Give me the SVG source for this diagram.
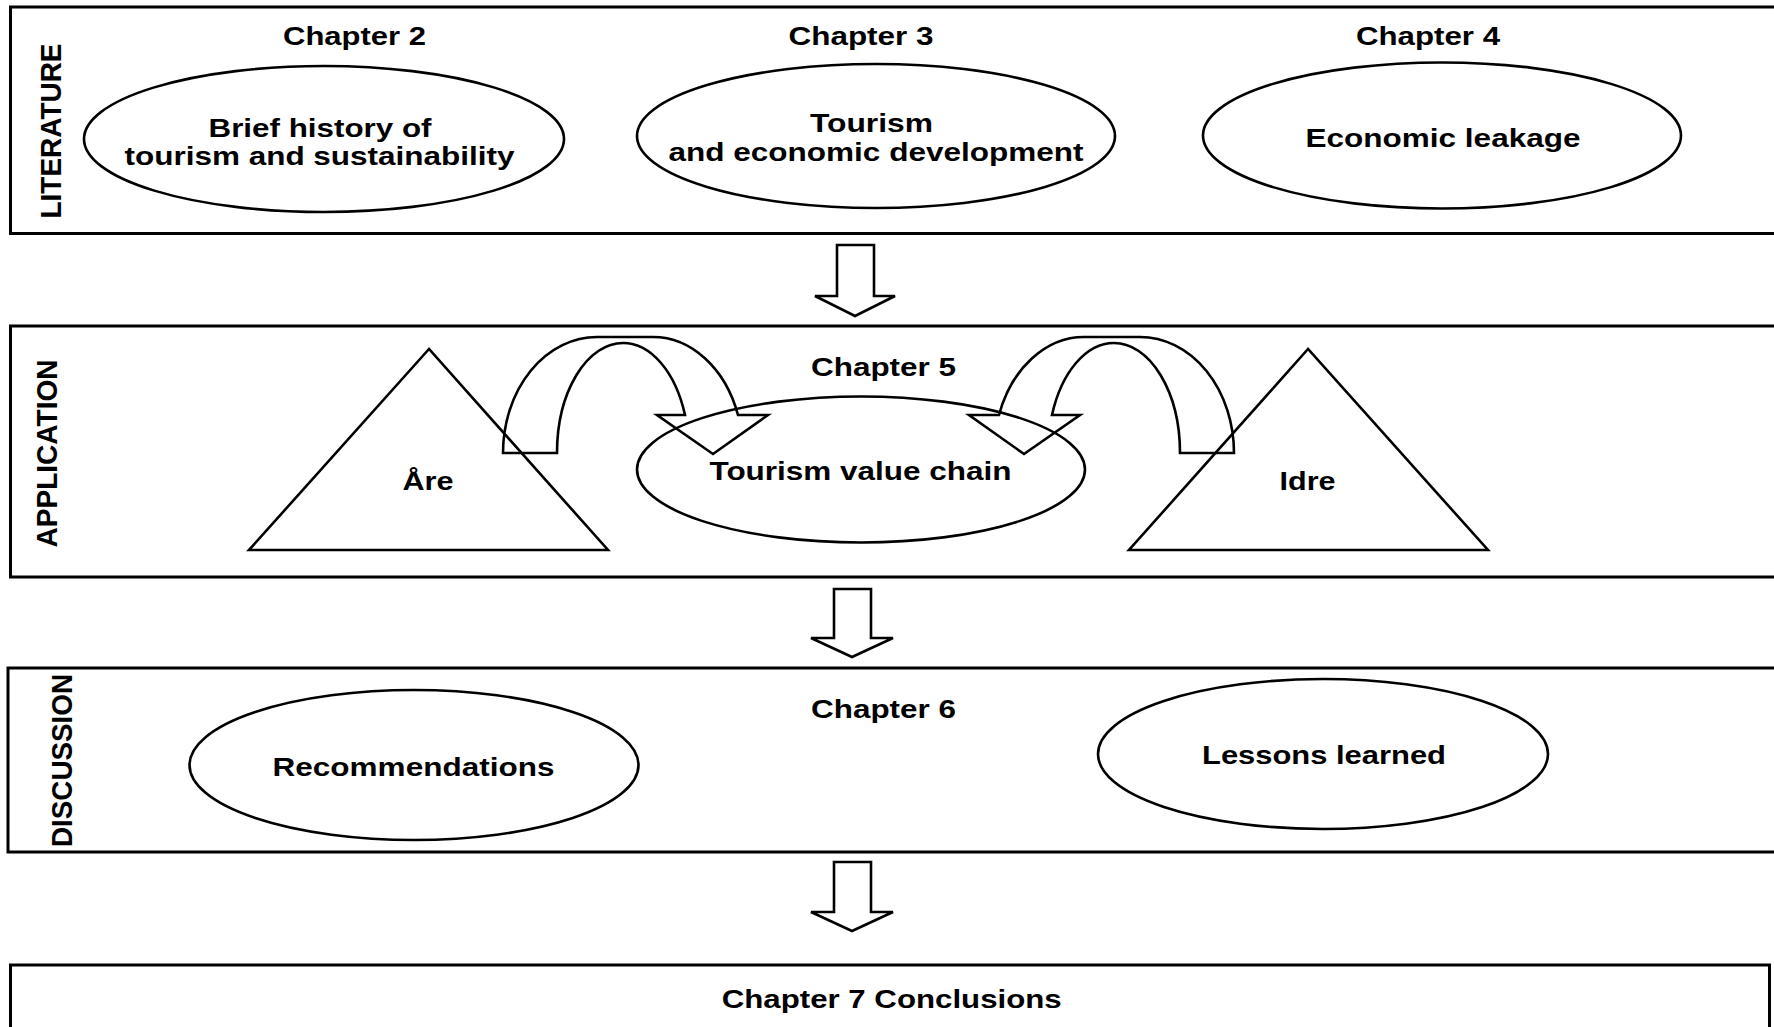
<svg xmlns="http://www.w3.org/2000/svg" width="1774" height="1027" viewBox="0 0 1774 1027">
<style>
.box{fill:none;stroke:#000;stroke-width:3}
.shape{fill:none;stroke:#000;stroke-width:2.6}
.arr{fill:none;stroke:#000;stroke-width:2.6;stroke-linejoin:miter}
text{font-family:"Liberation Sans",Arial,sans-serif;font-weight:bold;font-size:26px;fill:#000}
.ctr{text-anchor:middle}
.side{font-size:30px;text-anchor:middle}
</style>
<rect width="1774" height="1027" fill="#fff"/>
<g id="literature">
<rect class="box" x="10.5" y="7" width="1780" height="226.5"/>
<text class="side" transform="translate(61,131) rotate(-90)" textLength="175" lengthAdjust="spacingAndGlyphs">LITERATURE</text>
</g>
<g id="ch2">
<text class="ctr" x="354.5" y="45" textLength="143" lengthAdjust="spacingAndGlyphs">Chapter 2</text>
<ellipse class="shape" cx="324" cy="139" rx="240" ry="73"/>
<text class="ctr" x="320" y="137" textLength="223" lengthAdjust="spacingAndGlyphs">Brief history of</text>
<text class="ctr" x="319.5" y="165" textLength="390" lengthAdjust="spacingAndGlyphs">tourism and sustainability</text>
</g>
<g id="ch3">
<text class="ctr" x="861" y="45" textLength="145" lengthAdjust="spacingAndGlyphs">Chapter 3</text>
<ellipse class="shape" cx="876" cy="136" rx="239" ry="72"/>
<text class="ctr" x="871.5" y="132" textLength="123" lengthAdjust="spacingAndGlyphs">Tourism</text>
<text class="ctr" x="876" y="161" textLength="415" lengthAdjust="spacingAndGlyphs">and economic development</text>
</g>
<g id="ch4">
<text class="ctr" x="1428" y="45" textLength="144" lengthAdjust="spacingAndGlyphs">Chapter 4</text>
<ellipse class="shape" cx="1442" cy="135.5" rx="239" ry="73"/>
<text class="ctr" x="1443" y="147" textLength="275" lengthAdjust="spacingAndGlyphs">Economic leakage</text>
</g>
<g id="application">
<rect class="box" x="10.5" y="326" width="1780" height="251"/>
<text class="side" transform="translate(57,453.5) rotate(-90)" textLength="188" lengthAdjust="spacingAndGlyphs">APPLICATION</text>
<text class="ctr" x="883.5" y="376" textLength="145" lengthAdjust="spacingAndGlyphs">Chapter 5</text>
</g>
<g id="are">
<polygon class="shape" points="429,349 249,550 608,550"/>
<text class="ctr" x="428" y="490" textLength="51" lengthAdjust="spacingAndGlyphs">Åre</text>
</g>
<g id="valuechain">
<ellipse class="shape" cx="861" cy="469.5" rx="224" ry="73"/>
<text class="ctr" x="860.5" y="480" textLength="302" lengthAdjust="spacingAndGlyphs">Tourism value chain</text>
</g>
<g id="idre">
<polygon class="shape" points="1308,349 1129,550 1488,550"/>
<text class="ctr" x="1307.5" y="490" textLength="56" lengthAdjust="spacingAndGlyphs">Idre</text>
</g>
<g id="discussion">
<rect class="box" x="8" y="668" width="1780" height="184"/>
<text class="side" transform="translate(72,760.5) rotate(-90)" textLength="173" lengthAdjust="spacingAndGlyphs">DISCUSSION</text>
<text class="ctr" x="883.5" y="718" textLength="145" lengthAdjust="spacingAndGlyphs">Chapter 6</text>
</g>
<g id="recommendations">
<ellipse class="shape" cx="414" cy="765" rx="224.5" ry="75"/>
<text class="ctr" x="413.5" y="776" textLength="282" lengthAdjust="spacingAndGlyphs">Recommendations</text>
</g>
<g id="lessons">
<ellipse class="shape" cx="1323" cy="754" rx="225" ry="75"/>
<text class="ctr" x="1324" y="764" textLength="244" lengthAdjust="spacingAndGlyphs">Lessons learned</text>
</g>
<g id="conclusions">
<rect class="box" x="10.5" y="965" width="1759" height="80"/>
<text class="ctr" x="891.7" y="1008" textLength="340" lengthAdjust="spacingAndGlyphs">Chapter 7 Conclusions</text>
</g>
<g id="connectors">
<path class="arr" d="M837,245 L874,245 L874,296 L895,296 L855,316 L815,296 L837,296 Z"/>
<path class="arr" d="M834,589 L871,589 L871,638 L893,638 L852,657 L811,638 L834,638 Z"/>
<path class="arr" d="M834,862 L871,862 L871,912 L893,912 L852,931 L811,912 L834,912 Z"/>
<path id="curve-left" class="arr" d="M503,453 A94,116 0 0 1 597,337 L653,337 A90,116 0 0 1 738,415 L768,415 L713,454 L657,415 L685,415 A66,110 0 0 0 623,343 A66,110 0 0 0 557,453 Z"/>
<path id="curve-right" class="arr" transform="translate(1737,0) scale(-1,1)" d="M503,453 A94,116 0 0 1 597,337 L653,337 A90,116 0 0 1 738,415 L768,415 L713,454 L657,415 L685,415 A66,110 0 0 0 623,343 A66,110 0 0 0 557,453 Z"/>
</g>
</svg>
